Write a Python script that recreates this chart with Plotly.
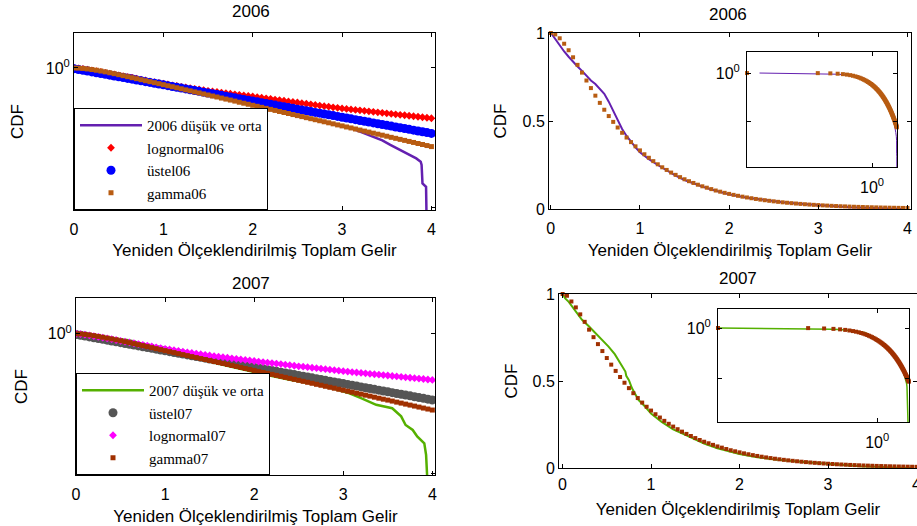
import plotly.graph_objects as go

# ---------------- data ----------------
x_grid = [0.001, 0.05, 0.1, 0.15, 0.2, 0.25, 0.3, 0.35, 0.4, 0.45, 0.5,
          0.55, 0.6, 0.65, 0.7, 0.75, 0.8, 0.85, 0.9, 0.95, 1.0,
          1.05, 1.1, 1.15, 1.2, 1.25, 1.3, 1.35, 1.4, 1.45, 1.5,
          1.55, 1.6, 1.65, 1.7, 1.75, 1.8, 1.85, 1.9, 1.95, 2.0,
          2.05, 2.1, 2.15, 2.2, 2.25, 2.3, 2.35, 2.4, 2.45, 2.5,
          2.55, 2.6, 2.65, 2.7, 2.75, 2.8, 2.85, 2.9, 2.95, 3.0,
          3.05, 3.1, 3.15, 3.2, 3.25, 3.3, 3.35, 3.4, 3.45, 3.5,
          3.55, 3.6, 3.65, 3.7, 3.75, 3.8, 3.85, 3.9, 3.95, 4.0]

gamma06 = [1.000, 0.992, 0.970, 0.939, 0.902, 0.862, 0.819, 0.775, 0.730, 0.687, 0.644,
           0.603, 0.564, 0.528, 0.495, 0.463, 0.433, 0.406, 0.380, 0.356, 0.333,
           0.311, 0.291, 0.272, 0.254, 0.237, 0.222, 0.207, 0.194, 0.181, 0.169,
           0.158, 0.148, 0.138, 0.129, 0.121, 0.113, 0.105, 0.0984, 0.0919, 0.0859,
           0.0803, 0.0750, 0.0701, 0.0655, 0.0612, 0.0571, 0.0534, 0.0499, 0.0466, 0.0435,
           0.0407, 0.0380, 0.0355, 0.0332, 0.0310, 0.0290, 0.0271, 0.0253, 0.0236, 0.0221,
           0.0206, 0.0193, 0.0180, 0.0168, 0.0157, 0.0147, 0.0137, 0.0128, 0.0120, 0.0112,
           0.0104, 0.00975, 0.00911, 0.00851, 0.00795, 0.00743, 0.00694, 0.00649, 0.00606, 0.00566]

lognormal06 = [1.000, 0.977, 0.938, 0.897, 0.855, 0.813, 0.769, 0.728, 0.689, 0.652, 0.617,
               0.582, 0.551, 0.520, 0.492, 0.465, 0.440, 0.416, 0.394, 0.373, 0.354,
               0.337, 0.320, 0.305, 0.290, 0.277, 0.265, 0.254, 0.243, 0.233, 0.223,
               0.214, 0.206, 0.198, 0.191, 0.184, 0.177, 0.171, 0.164, 0.159, 0.153,
               0.147, 0.142, 0.136, 0.131, 0.125, 0.121, 0.116, 0.111, 0.107, 0.103,
               0.0986, 0.0948, 0.0912, 0.0877, 0.0843, 0.0811, 0.0782, 0.0752, 0.0724, 0.0698,
               0.0676, 0.0655, 0.0634, 0.0614, 0.0594, 0.0575, 0.0557, 0.0540, 0.0522, 0.0506,
               0.0490, 0.0474, 0.0459, 0.0445, 0.0431, 0.0417, 0.0404, 0.0391, 0.0378, 0.0366]

ustel06 = [0.955, 0.905, 0.859, 0.814, 0.772, 0.732, 0.694, 0.658, 0.624, 0.591, 0.561,
           0.532, 0.504, 0.478, 0.453, 0.430, 0.407, 0.386, 0.366, 0.347, 0.329,
           0.312, 0.296, 0.280, 0.266, 0.252, 0.239, 0.226, 0.215, 0.204, 0.193,
           0.183, 0.174, 0.165, 0.156, 0.148, 0.140, 0.133, 0.126, 0.120, 0.113,
           0.108, 0.102, 0.0966, 0.0916, 0.0868, 0.0823, 0.0781, 0.0740, 0.0702, 0.0665,
           0.0631, 0.0598, 0.0567, 0.0538, 0.0510, 0.0483, 0.0458, 0.0435, 0.0412, 0.0391,
           0.0371, 0.0351, 0.0333, 0.0316, 0.0299, 0.0284, 0.0269, 0.0255, 0.0242, 0.0229,
           0.0218, 0.0206, 0.0196, 0.0186, 0.0176, 0.0167, 0.0158, 0.0150, 0.0142, 0.0135]

gamma07 = [1.000, 0.990, 0.957, 0.923, 0.883, 0.840, 0.795, 0.752, 0.712, 0.672, 0.632,
           0.594, 0.558, 0.523, 0.490, 0.459, 0.430, 0.402, 0.376, 0.352, 0.330,
           0.309, 0.290, 0.271, 0.254, 0.238, 0.223, 0.209, 0.196, 0.184, 0.172,
           0.161, 0.151, 0.142, 0.133, 0.124, 0.117, 0.109, 0.102, 0.0959, 0.0899,
           0.0842, 0.0789, 0.0739, 0.0693, 0.0649, 0.0608, 0.0570, 0.0534, 0.0500, 0.0469,
           0.0439, 0.0412, 0.0386, 0.0361, 0.0339, 0.0317, 0.0297, 0.0279, 0.0261, 0.0245,
           0.0229, 0.0215, 0.0201, 0.0189, 0.0177, 0.0166, 0.0155, 0.0145, 0.0136, 0.0128,
           0.0120, 0.0112, 0.0105, 0.00984, 0.00922, 0.00864, 0.00809, 0.00758, 0.00711, 0.00666]

ustel07 = [0.955, 0.905, 0.858, 0.813, 0.770, 0.730, 0.692, 0.655, 0.621, 0.588, 0.558,
           0.528, 0.501, 0.474, 0.450, 0.426, 0.404, 0.383, 0.363, 0.344, 0.326,
           0.309, 0.292, 0.277, 0.263, 0.249, 0.236, 0.223, 0.212, 0.201, 0.190,
           0.180, 0.171, 0.162, 0.153, 0.145, 0.138, 0.130, 0.124, 0.117, 0.111,
           0.105, 0.0996, 0.0944, 0.0894, 0.0848, 0.0803, 0.0761, 0.0721, 0.0683, 0.0648,
           0.0614, 0.0582, 0.0551, 0.0522, 0.0495, 0.0469, 0.0444, 0.0421, 0.0399, 0.0378,
           0.0358, 0.0339, 0.0322, 0.0305, 0.0289, 0.0274, 0.0259, 0.0246, 0.0233, 0.0221,
           0.0209, 0.0198, 0.0188, 0.0178, 0.0169, 0.0160, 0.0151, 0.0144, 0.0136, 0.0129]

lognormal07 = [1.000, 0.977, 0.940, 0.900, 0.859, 0.818, 0.778, 0.738, 0.700, 0.664, 0.630,
               0.596, 0.565, 0.535, 0.507, 0.481, 0.456, 0.433, 0.411, 0.391, 0.372,
               0.355, 0.338, 0.323, 0.309, 0.296, 0.283, 0.272, 0.261, 0.250, 0.240,
               0.231, 0.222, 0.214, 0.207, 0.199, 0.192, 0.185, 0.179, 0.173, 0.167,
               0.161, 0.156, 0.151, 0.146, 0.141, 0.136, 0.131, 0.127, 0.122, 0.118,
               0.115, 0.111, 0.107, 0.104, 0.101, 0.0975, 0.0944, 0.0914, 0.0885, 0.0857,
               0.0832, 0.0809, 0.0785, 0.0764, 0.0741, 0.0721, 0.0700, 0.0681, 0.0661, 0.0643,
               0.0624, 0.0607, 0.0589, 0.0573, 0.0556, 0.0541, 0.0525, 0.0511, 0.0495, 0.0482]

emp06_x = [0.002, 0.05, 0.1, 0.15, 0.2, 0.25, 0.3, 0.35, 0.4, 0.45, 0.5, 0.55, 0.6, 0.65,
           0.7, 0.75, 0.8, 0.85, 0.9, 0.95, 1.0, 1.1, 1.2, 1.3, 1.4, 1.5, 1.6, 1.7, 1.8,
           1.9, 2.0, 2.2, 2.4, 2.6, 2.8, 3.0, 3.1, 3.24, 3.35, 3.45, 3.54, 3.63, 3.72,
           3.83, 3.88, 3.89, 3.9, 3.94, 3.95]
emp06_y = [1.0, 0.965, 0.93, 0.895, 0.865, 0.835, 0.81, 0.785, 0.755, 0.73, 0.71, 0.685,
           0.655, 0.61, 0.555, 0.5, 0.455, 0.415, 0.38, 0.35, 0.322, 0.283, 0.25, 0.219,
           0.19, 0.165, 0.145, 0.127, 0.111, 0.096, 0.083, 0.064, 0.05, 0.039, 0.03, 0.022,
           0.019, 0.0136, 0.0105, 0.0085, 0.0063, 0.0048, 0.0037, 0.0026, 0.0021, 0.0017,
           0.0005, 0.0004, 0.00001]

emp07_x = [0.001, 0.03, 0.07, 0.15, 0.22, 0.3, 0.37, 0.45, 0.52, 0.59, 0.64, 0.71, 0.72,
           0.75, 0.785, 0.86, 0.935, 1.0, 1.12, 1.25, 1.4, 1.5, 1.6, 1.75, 1.9, 2.0, 2.2,
           2.4, 2.69, 2.9, 3.07, 3.2, 3.37, 3.55, 3.59, 3.65, 3.70, 3.78, 3.83, 3.91, 3.93,
           3.96]
emp07_y = [1.0, 0.975, 0.955, 0.90, 0.852, 0.813, 0.775, 0.737, 0.698, 0.654, 0.61, 0.554,
           0.53, 0.505, 0.458, 0.39, 0.352, 0.313, 0.265, 0.222, 0.187, 0.162, 0.14, 0.113,
           0.092, 0.08, 0.062, 0.049, 0.036, 0.027, 0.020, 0.0145, 0.0094, 0.0075, 0.006,
           0.0044, 0.0025, 0.0018, 0.00117, 0.00075, 0.00035, 0.00001]

panel_titles = ["2006", "2006", "2007", "2007"]
x_title = "Yeniden Ölçeklendirilmiş Toplam Gelir"
y_title = "CDF"
names06 = ["2006 düşük ve orta", "lognormal06", "üstel06", "gamma06"]
names07 = ["2007 düşük ve orta", "üstel07", "lognormal07", "gamma07"]

# ---------------- styling ----------------
W, H = 917, 526
SANS = "Liberation Sans, Arial, sans-serif"
SERIF = "Liberation Serif, Times New Roman, serif"

C_PURPLE = "#6420b0"
C_RED = "#ff0000"
C_BLUE = "#0000ff"
C_GAM06 = "#b85c12"
C_GREEN = "#55b000"
C_GREY = "#555555"
C_MAG = "#ff00ff"
C_GAM07 = "#a03000"


def dx(a, b):
    return [a / W, b / W]


def dy(top, bottom):
    return [1 - bottom / H, 1 - top / H]


def axis(domain, anchor, **kw):
    base = dict(domain=domain, anchor=anchor, showline=True, linecolor="black",
                linewidth=1, mirror="ticks", ticks="inside", ticklen=4,
                tickcolor="black", showgrid=False, zeroline=False, automargin=False,
                tickfont=dict(family=SANS, size=16, color="black"))
    base.update(kw)
    return base


def xtitle(standoff):
    return dict(text=x_title, font=dict(family=SANS, size=17, color="black"),
                standoff=standoff)


def ytitle(standoff):
    return dict(text=y_title, font=dict(family=SANS, size=17, color="black"),
                standoff=standoff)


fig = go.Figure()

# ---- top-left (log y) ----
fig.add_trace(go.Scatter(x=emp06_x, y=emp06_y, mode="lines", name=names06[0],
                         line=dict(color=C_PURPLE, width=2.5), xaxis="x", yaxis="y",
                         legend="legend"))
fig.add_trace(go.Scatter(x=x_grid, y=lognormal06, mode="markers", name=names06[1],
                         marker=dict(symbol="diamond", size=6, color=C_RED),
                         xaxis="x", yaxis="y", legend="legend"))
fig.add_trace(go.Scatter(x=x_grid, y=ustel06, mode="markers", name=names06[2],
                         marker=dict(symbol="circle", size=9, color=C_BLUE),
                         xaxis="x", yaxis="y", legend="legend"))
fig.add_trace(go.Scatter(x=x_grid, y=gamma06, mode="markers", name=names06[3],
                         marker=dict(symbol="square", size=5, color=C_GAM06),
                         xaxis="x", yaxis="y", legend="legend"))

# ---- top-right (linear) ----
fig.add_trace(go.Scatter(x=emp06_x, y=emp06_y, mode="lines", showlegend=False,
                         line=dict(color=C_PURPLE, width=2), xaxis="x2", yaxis="y2"))
fig.add_trace(go.Scatter(x=x_grid, y=gamma06, mode="markers", showlegend=False,
                         marker=dict(symbol="square", size=4, color=C_GAM06),
                         cliponaxis=False, xaxis="x2", yaxis="y2"))
# ---- top inset (log-log) ----
fig.add_trace(go.Scatter(x=emp06_x, y=emp06_y, mode="lines", showlegend=False,
                         line=dict(color=C_PURPLE, width=1), xaxis="x3", yaxis="y3"))
fig.add_trace(go.Scatter(x=x_grid, y=gamma06, mode="markers", showlegend=False,
                         marker=dict(symbol="square", size=4, color=C_GAM06),
                         cliponaxis=False, xaxis="x3", yaxis="y3"))

# ---- bottom-left (log y) ----
fig.add_trace(go.Scatter(x=emp07_x, y=emp07_y, mode="lines", name=names07[0],
                         line=dict(color=C_GREEN, width=2.5), xaxis="x4", yaxis="y4",
                         legend="legend2"))
fig.add_trace(go.Scatter(x=x_grid, y=ustel07, mode="markers", name=names07[1],
                         marker=dict(symbol="circle", size=9, color=C_GREY),
                         xaxis="x4", yaxis="y4", legend="legend2"))
fig.add_trace(go.Scatter(x=x_grid, y=lognormal07, mode="markers", name=names07[2],
                         marker=dict(symbol="diamond", size=6, color=C_MAG),
                         xaxis="x4", yaxis="y4", legend="legend2"))
fig.add_trace(go.Scatter(x=x_grid, y=gamma07, mode="markers", name=names07[3],
                         marker=dict(symbol="square", size=5, color=C_GAM07),
                         xaxis="x4", yaxis="y4", legend="legend2"))

# ---- bottom-right (linear) ----
fig.add_trace(go.Scatter(x=emp07_x, y=emp07_y, mode="lines", showlegend=False,
                         line=dict(color=C_GREEN, width=2), xaxis="x5", yaxis="y5"))
fig.add_trace(go.Scatter(x=x_grid, y=gamma07, mode="markers", showlegend=False,
                         marker=dict(symbol="square", size=4, color=C_GAM07),
                         cliponaxis=False, xaxis="x5", yaxis="y5"))
# ---- bottom inset ----
fig.add_trace(go.Scatter(x=emp07_x, y=emp07_y, mode="lines", showlegend=False,
                         line=dict(color=C_GREEN, width=1.5), xaxis="x6", yaxis="y6"))
fig.add_trace(go.Scatter(x=x_grid, y=gamma07, mode="markers", showlegend=False,
                         marker=dict(symbol="square", size=4, color=C_GAM07),
                         cliponaxis=False, xaxis="x6", yaxis="y6"))

lin_ticks = dict(tickvals=[0, 1, 2, 3, 4])
log_y_ticks = dict(type="log", tickvals=[1e-4, 1], ticktext=["", "10<sup>0</sup>"])
inset_x = dict(type="log", tickvals=[1], ticktext=["10<sup>0</sup>"], range=[-3.0, 0.6],
               ticklabelstandoff=6)

legend_style = dict(xanchor="left", yanchor="bottom", bgcolor="white",
                    bordercolor="black", borderwidth=1,
                    font=dict(family=SERIF, size=15, color="black"),
                    tracegroupgap=0, itemwidth=62)

fig.update_layout(
    width=W, height=H, margin=dict(l=0, r=0, t=0, b=0, autoexpand=False),
    paper_bgcolor="white", plot_bgcolor="white",
    xaxis=axis(dx(74, 435), "y", range=[0, 4.04], title=xtitle(6),
               ticklabelstandoff=5, **lin_ticks),
    yaxis=axis(dy(33, 210), "x", range=[-4.06, 1.0], title=ytitle(17), **log_y_ticks),
    xaxis2=axis(dx(549, 911), "y2", range=[-0.02, 4.04], title=xtitle(7),
                ticklabelstandoff=5, **lin_ticks),
    yaxis2=axis(dy(33, 209), "x2", range=[0, 1], tickvals=[0, 0.5, 1],
                ticktext=["0", "0.5", "1"], title=ytitle(11)),
    xaxis3=axis(dx(747, 897), "y3", **inset_x),
    yaxis3=axis(dy(52, 167), "x3", type="log", range=[-3.84, 0.86],
                tickvals=[0.01, 1], ticktext=["", "10<sup>0</sup>"], ticklabelstandoff=3),
    xaxis4=axis(dx(76, 435), "y4", range=[0, 4.03], title=xtitle(9),
                ticklabelstandoff=5, **lin_ticks),
    yaxis4=axis(dy(298, 475), "x4", range=[-4.03, 1.02], title=ytitle(15), **log_y_ticks),
    xaxis5=axis(dx(559, 917), "y5", range=[-0.04, 4.005], title=xtitle(10),
                ticklabelstandoff=2, ticklabeloverflow="allow", **lin_ticks),
    yaxis5=axis(dy(294, 468), "x5", range=[0, 1], tickvals=[0, 0.5, 1],
                ticktext=["0", "0.5", "1"], title=ytitle(10)),
    xaxis6=axis(dx(718, 909), "y6", **inset_x),
    yaxis6=axis(dy(309, 422), "x6", type="log", range=[-3.76, 0.76],
                tickvals=[0.01, 1], ticktext=["", "10<sup>0</sup>"], ticklabelstandoff=3),
    legend=dict(x=74 / W, y=1 - 210 / H, **legend_style),
    legend2=dict(x=76 / W, y=1 - 475 / H, **legend_style),
)

title_pos = [(251, 12), (728, 14), (251, 283), (738, 278)]
for t, (px, py) in zip(panel_titles, title_pos):
    fig.add_annotation(text=t, x=px / W, y=1 - py / H, xref="paper", yref="paper",
                       xanchor="center", yanchor="middle", showarrow=False,
                       font=dict(family=SANS, size=17, color="black"))

fig.write_html("out.html")
